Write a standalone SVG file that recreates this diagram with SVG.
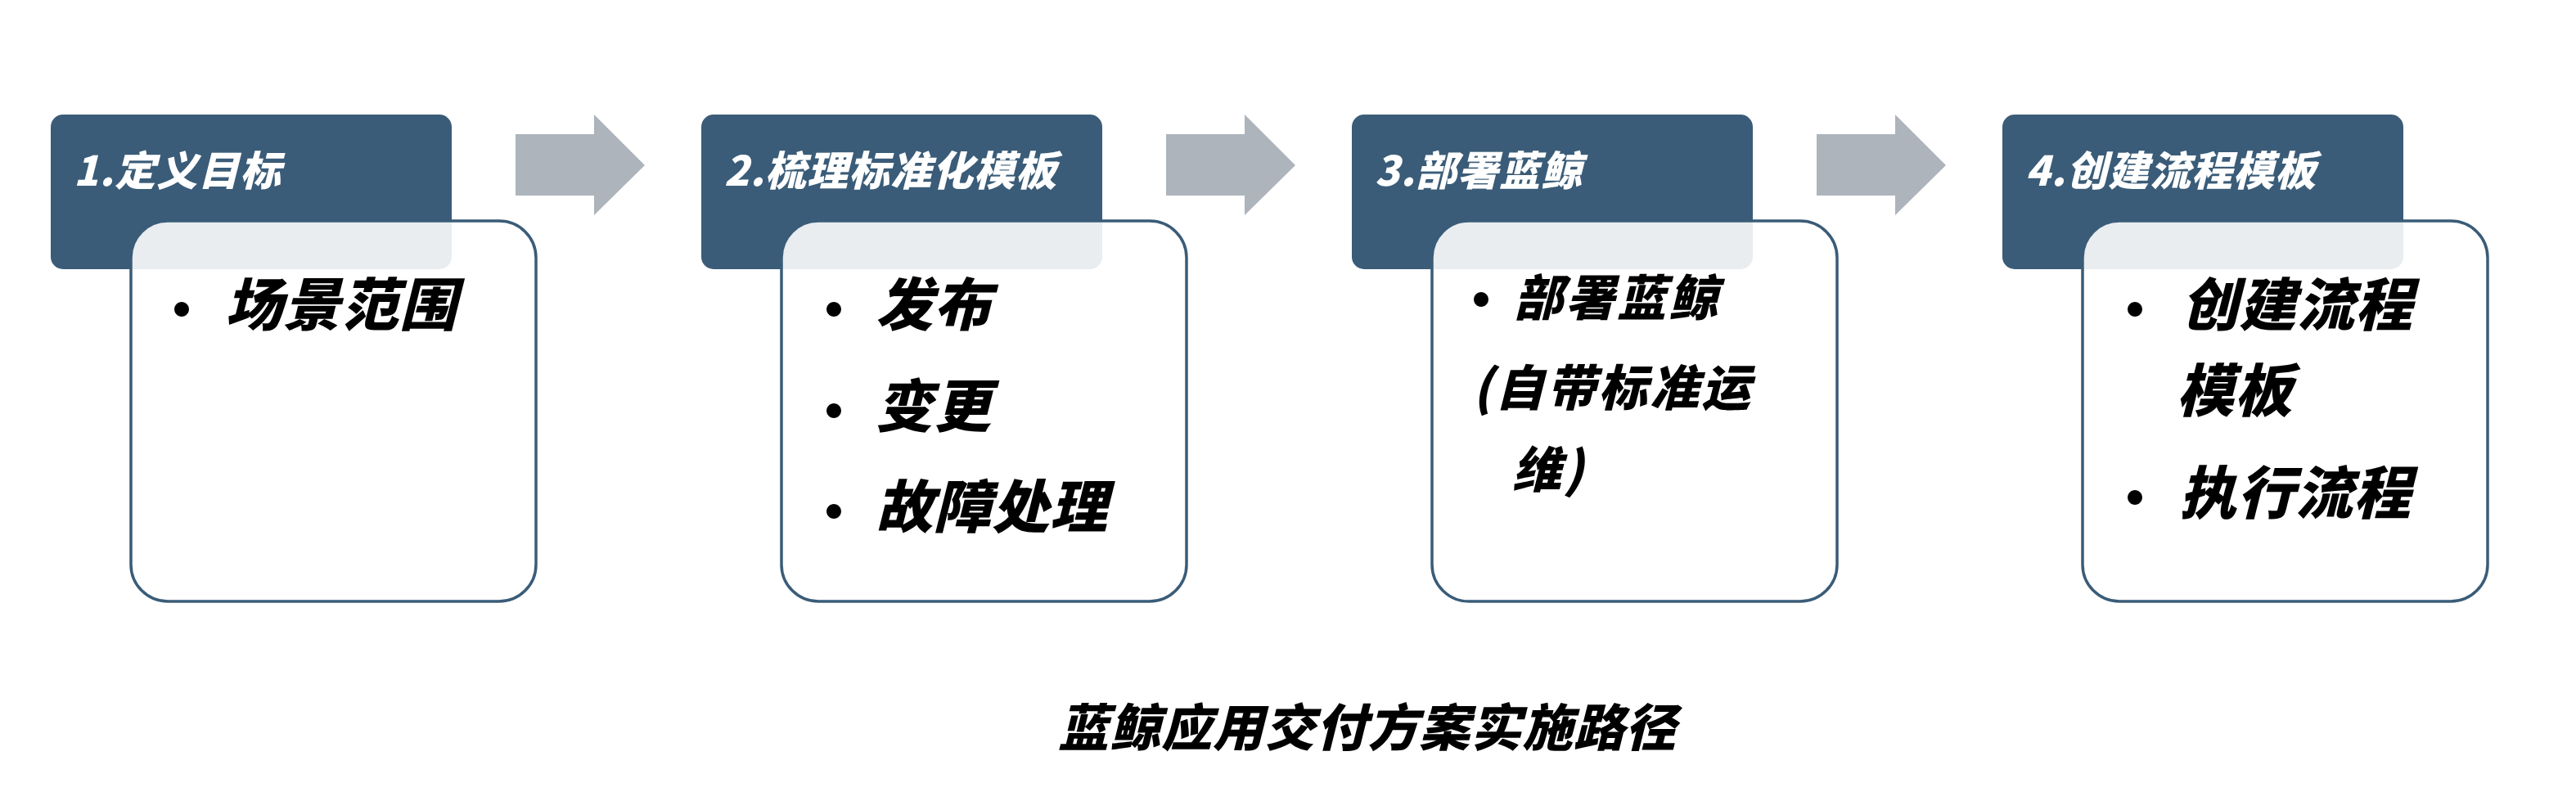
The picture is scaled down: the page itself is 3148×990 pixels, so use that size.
<svg xmlns="http://www.w3.org/2000/svg" width="3148" height="990" viewBox="0 0 3148 990">
<style>
.hdr{fill:#3a5c78}
.card{fill:#ffffff;fill-opacity:0.89;stroke:#3a5c78;stroke-width:3.5}
.arrow{fill:#adb4bc}
.ht{font-family:"Noto Sans CJK SC",sans-serif;font-weight:900;font-style:italic;font-size:50px;fill:#ffffff;letter-spacing:1px}
.bt{font-family:"Noto Sans CJK SC",sans-serif;font-weight:900;font-style:italic;font-size:70px;fill:#000000;letter-spacing:1px}
.bt3{font-family:"Noto Sans CJK SC",sans-serif;font-weight:900;font-style:italic;font-size:60px;fill:#000000;letter-spacing:3px}
.bul{font-family:"Noto Sans CJK SC",sans-serif;font-weight:900;font-size:64px;fill:#000000}
.title{font-family:"Noto Sans CJK SC",sans-serif;font-weight:900;font-style:italic;font-size:62px;fill:#000000;letter-spacing:1px}
</style>
<rect width="3148" height="990" fill="#ffffff"/>
<g id="connectors">
<polygon class="arrow" points="630,164 726,164 726,140 788,202 726,263 726,239 630,239"/>
<polygon class="arrow" points="1425,164 1521,164 1521,140 1583,202 1521,263 1521,239 1425,239"/>
<polygon class="arrow" points="2220,164 2316,164 2316,140 2378,202 2316,263 2316,239 2220,239"/>
</g>
<g id="step1">
<rect class="hdr" x="62" y="140" width="490" height="189" rx="15"/>
<text class="ht" x="90" y="227">1.定义目标</text>
<rect class="card" x="160" y="270" width="495" height="465" rx="45"/>
<text class="bul" x="190" y="402">·</text>
<text class="bt" x="275" y="398">场景范围</text>
</g>
<g id="step2">
<rect class="hdr" x="857" y="140" width="490" height="189" rx="15"/>
<text class="ht" x="885" y="227">2.梳理标准化模板</text>
<rect class="card" x="955" y="270" width="495" height="465" rx="45"/>
<text class="bul" x="987" y="402">·</text>
<text class="bt" x="1070" y="398">发布</text>
<text class="bul" x="987" y="526">·</text>
<text class="bt" x="1070" y="522">变更</text>
<text class="bul" x="987" y="649">·</text>
<text class="bt" x="1070" y="645">故障处理</text>
</g>
<g id="step3">
<rect class="hdr" x="1652" y="140" width="490" height="189" rx="15"/>
<text class="ht" x="1680" y="227">3.部署蓝鲸</text>
<rect class="card" x="1750" y="270" width="495" height="465" rx="45"/>
<text class="bul" x="1778" y="390">·</text>
<text class="bt3" x="1850" y="386">部署蓝鲸</text>
<text class="bt3" x="1800" y="496">(自带标准运</text>
<text class="bt3" x="1848" y="596">维)</text>
</g>
<g id="step4">
<rect class="hdr" x="2447" y="140" width="490" height="189" rx="15"/>
<text class="ht" x="2475" y="227">4.创建流程模板</text>
<rect class="card" x="2545" y="270" width="495" height="465" rx="45"/>
<text class="bul" x="2577" y="402">·</text>
<text class="bt" x="2665" y="398">创建流程</text>
<text class="bt" x="2660" y="503">模板</text>
<text class="bul" x="2577" y="632">·</text>
<text class="bt" x="2663" y="628">执行流程</text>
</g>
<g id="caption">
<text class="title" x="1293" y="912">蓝鲸应用交付方案实施路径</text>
</g>
</svg>
